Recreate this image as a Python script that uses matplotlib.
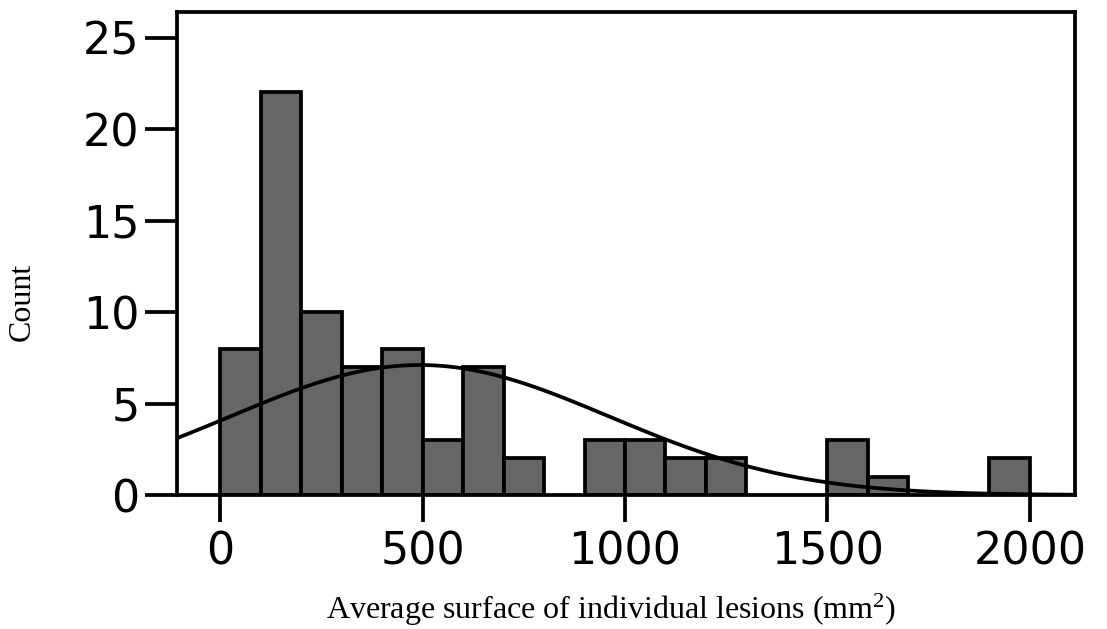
import numpy as np
import matplotlib
matplotlib.use('Agg')
import matplotlib.pyplot as plt

plt.rcParams['mathtext.fontset'] = 'custom'
plt.rcParams['mathtext.rm'] = 'Liberation Serif'
plt.rcParams['mathtext.it'] = 'Liberation Serif'

# Histogram bins (mm^2) and counts per bin
bin_edges = [0, 100, 200, 300, 400, 500, 600, 700, 800, 900, 1000,
             1100, 1200, 1300, 1400, 1500, 1600, 1700, 1800, 1900, 2000]
counts = [8, 22, 10, 7, 8, 3, 7, 2, 0, 3, 3, 2, 2, 0, 0, 3, 1, 0, 0, 2]

# Normal curve fitted to the sample
fit_mean = 493.0
fit_sd = 466.0

x_ticks = [0, 500, 1000, 1500, 2000]
y_ticks = [0, 5, 10, 15, 20, 25]

fig = plt.figure(figsize=(11.07, 6.29), dpi=100)
ax = fig.add_axes([0.160, 0.213, 0.811, 0.768])

lw = 2.7
widths = np.diff(bin_edges)
lefts = np.array(bin_edges[:-1])
for left, w, c in zip(lefts, widths, counts):
    if c > 0:
        ax.bar(left, c, width=w, align='edge', color='#666666',
               edgecolor='black', linewidth=lw, zorder=2)

# Expected counts from the normal fit
n_total = sum(counts)
bin_width = widths[0]
xs = np.linspace(-150, 2150, 600)
ys = n_total * bin_width / (fit_sd * np.sqrt(2 * np.pi)) * np.exp(-(xs - fit_mean) ** 2 / (2 * fit_sd ** 2))
ax.plot(xs, ys, color='black', linewidth=lw, zorder=3)

ax.set_xlim(-106, 2111)
ax.set_ylim(0, 26.4)
ax.set_xticks(x_ticks)
ax.set_yticks(y_ticks)

for side in ['left', 'right', 'top', 'bottom']:
    ax.spines[side].set_linewidth(lw)
    ax.spines[side].set_zorder(4)

ax.tick_params(axis='y', direction='out', length=23, width=lw, pad=4,
               labelsize=32)
ax.tick_params(axis='x', direction='out', length=19.5, width=lw, pad=6,
               labelsize=32)
for lab in ax.get_xticklabels() + ax.get_yticklabels():
    lab.set_fontfamily('DejaVu Sans')

fig.text(0.552, 0.030, 'Average surface of individual lesions (mm$^2$)',
         fontfamily='Liberation Serif', fontsize=23, ha='center', va='center')
fig.text(0.020, 0.520, 'Count', fontfamily='Liberation Serif', fontsize=23,
         rotation=90, ha='center', va='center')

fig.savefig('out.png', dpi=100)
